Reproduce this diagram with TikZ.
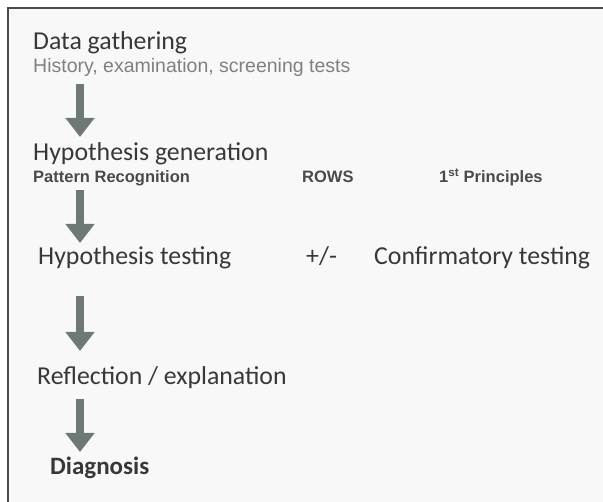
\documentclass[tikz,border=0pt]{standalone}
\usepackage{fontspec}
\setmainfont{Carlito}
\newfontfamily\arialfont{Liberation Sans}
\usetikzlibrary{arrows.meta}

\definecolor{paper}{HTML}{F8F8F8}
\definecolor{framegray}{HTML}{4A4A4A}
\definecolor{titlegray}{HTML}{383838}
\definecolor{notegray}{HTML}{808080}
\definecolor{subgray}{HTML}{4A4A4A}
\definecolor{arrowgray}{HTML}{6E7875}

\tikzset{
  stage/.style={anchor=base west, inner sep=0pt, text=titlegray,
    font=\fontsize{25.8}{30}\selectfont},
  note/.style={anchor=base west, inner sep=0pt, text=notegray,
    font=\arialfont\fontsize{19.5}{23}\selectfont},
  method/.style={anchor=base west, inner sep=0pt, text=subgray,
    font=\arialfont\bfseries\fontsize{16.5}{20}\selectfont},
  flowarrow/.style={line width=8pt, arrowgray,
    -{Triangle[width=28pt,length=19pt]}}
}

\begin{document}
\begin{tikzpicture}[x=1pt,y=-1pt]
  \useasboundingbox (0,0) rectangle (603,502);
  % panel
  \fill[paper] (8,8) rectangle (603,502);
  \draw[framegray, line width=1.5pt] (8,502) -- (8,8) -- (603,8);

  % stages
  \node[stage] (gather) at (33,50) {Data gathering};
  \node[note] (history) at (33,73) {History, examination, screening tests};
  \node[stage] (hypgen) at (33,161) {Hypothesis generation};
  \node[method] (pattern) at (33,183) {Pattern Recognition};
  \node[method] (rows) at (302,183) {ROWS};
  \node[method] (first) at (439,183) {1\textsuperscript{st} Principles};
  \node[stage] (hyptest) at (38,265) {Hypothesis testing};
  \node[stage] (plusminus) at (306,265) {+/-};
  \node[stage] (confirm) at (374,265) {Confirmatory testing};
  \node[stage] (reflect) at (37,385) {Reflection / explanation};
  \node[stage, font=\bfseries\fontsize{25}{30}\selectfont] (diag) at (50,475) {Diagnosis};

  % arrows
  \coordinate (a1s) at (80,84);  \coordinate (a1e) at (80,137);
  \coordinate (a2s) at (80,190); \coordinate (a2e) at (80,243);
  \coordinate (a3s) at (80,296); \coordinate (a3e) at (80,351);
  \coordinate (a4s) at (80,399); \coordinate (a4e) at (80,452);
  \draw[flowarrow] (a1s) -- (a1e);
  \draw[flowarrow] (a2s) -- (a2e);
  \draw[flowarrow] (a3s) -- (a3e);
  \draw[flowarrow] (a4s) -- (a4e);
\end{tikzpicture}
\end{document}
